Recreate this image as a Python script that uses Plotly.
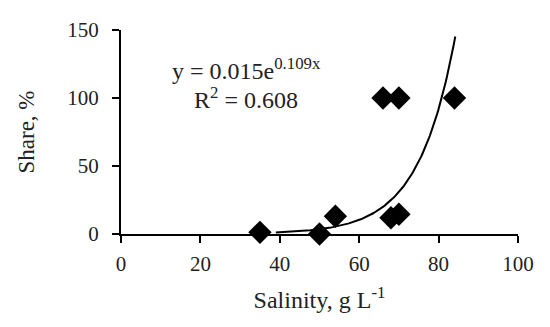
import numpy as np
import plotly.graph_objects as go

salinity = [35, 50, 54, 66, 68, 70, 70, 84]
share = [1.2, 0.0, 13, 100, 12, 100, 14.5, 100]

fit_a = 0.015
fit_b = 0.109
fit_x_start = 39
fit_x_end = 84.2

x_ticks = [0, 20, 40, 60, 80, 100]
y_ticks = [0, 50, 100, 150]

fx = np.linspace(fit_x_start, fit_x_end, 200)
fy = fit_a * np.exp(fit_b * fx)

font = "Liberation Serif"

fig = go.Figure()
fig.add_trace(go.Scatter(x=fx, y=fy, mode="lines", line=dict(color="black", width=2),
                         showlegend=False, hoverinfo="skip", cliponaxis=False))
fig.add_trace(go.Scatter(x=salinity, y=share, mode="markers",
                         marker=dict(symbol="diamond", size=18, color="black"),
                         showlegend=False, cliponaxis=False))

fig.update_layout(
    width=550, height=327,
    margin=dict(l=113, r=40, t=22, b=101, autoexpand=False),
    paper_bgcolor="white", plot_bgcolor="white",
    font=dict(family=font, size=21, color="#222"),
    xaxis=dict(range=[0, 100], tickvals=x_ticks, showgrid=False, zeroline=False,
               showline=True, linecolor="black", linewidth=2, ticks="outside",
               ticklen=7, tickwidth=2, tickcolor="black", automargin=False,
               ticklabelstandoff=3,
               tickfont=dict(family=font, size=21),
               title=dict(text="Salinity, g L<sup>-1</sup>", standoff=16,
                          font=dict(family=font, size=24))),
    yaxis=dict(range=[0, 150], tickvals=y_ticks, showgrid=False, zeroline=False,
               showline=True, linecolor="black", linewidth=2, ticks="outside",
               ticklen=7, tickwidth=2, tickcolor="black", automargin=False,
               ticklabelstandoff=9,
               tickfont=dict(family=font, size=21),
               title=dict(text="Share, %", standoff=26,
                          font=dict(family=font, size=23))),
    annotations=[
        dict(x=31.7, y=121.2, xref="x", yref="y", showarrow=False,
             text="y = 0.015e<sup>0.109x</sup>", font=dict(family=font, size=24)),
        dict(x=31.5, y=100.2, xref="x", yref="y", showarrow=False,
             text="R<sup>2</sup> = 0.608", font=dict(family=font, size=24)),
    ],
)

fig.write_html("out.html")
